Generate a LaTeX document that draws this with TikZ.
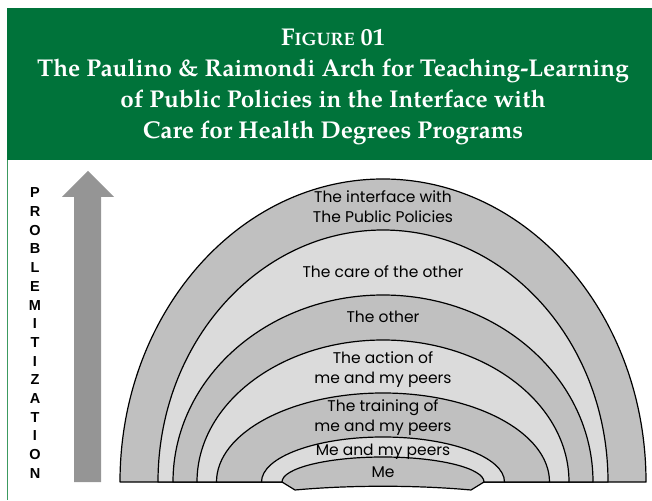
\documentclass[tikz,border=0pt]{standalone}
\usepackage{fontspec}
\setmainfont{Poppins}
\newfontfamily\headfont{texgyrepagella}[Extension=.otf,UprightFont=*-regular,BoldFont=*-bold]
\newfontfamily\letterfont{Liberation Sans Bold}
\usetikzlibrary{positioning}

\definecolor{headgreen}{HTML}{00733A}
\definecolor{framegreen}{HTML}{3C9A60}
\definecolor{bandDark}{HTML}{C0C0C0}
\definecolor{bandLight}{HTML}{DBDBDB}
\definecolor{arrowGray}{HTML}{959595}

\tikzset{
  band/.style={draw=black, line width=1.2pt, line join=round},
  darkband/.style={band, fill=bandDark},
  lightband/.style={band, fill=bandLight},
  archtext/.style={font=\fontsize{15.5}{20}\selectfont, align=center, inner sep=0pt},
  letter/.style={font=\letterfont\fontsize{14.5}{14.5}\selectfont, inner sep=0pt},
}

\begin{document}
\begin{tikzpicture}[x=1pt,y=1pt]
  \useasboundingbox (0,0) rectangle (652,500);

  % header
  \fill[headgreen] (7,340) rectangle (652,492);
  \node[text=white, align=center, font=\headfont\bfseries\fontsize{24.3}{31}\selectfont]
    (title) at (333,413)
    {F{\fontsize{18}{31}\selectfont IGURE} 01\\
     The Paulino \& Raimondi Arch for Teaching-Learning\\
     of Public Policies in the Interface with\\
     Care for Health Degrees Programs};
  \draw[framegreen, line width=1pt] (7.5,340) -- (7.5,0);

  % arrow and its word
  \fill[arrowGray] (74,18) -- (74,303) -- (62,303) -- (88,329) -- (114,303)
    -- (101,303) -- (101,18) -- cycle;
  \foreach \l [count=\i] in {P,R,O,B,L,E,M,I,T,I,Z,A,T,I,O,N}
    \node[letter] (letter\i) at (35,{307-(\i-1)*18.67}) {\l};

  % the arch, outer band first
  \foreach \a/\b/\s in {263/303/darkband, 225/252/lightband, 210/187/darkband,
                        186/142/lightband, 166.5/89/darkband, 121.5/45/lightband}
    \path[\s] ({383-\a},18) arc[start angle=180, end angle=0, x radius=\a, y radius=\b] -- cycle;
  \path[darkband] (282,18) -- (295,10) .. controls (350,15) and (416,15) .. (471,10)
    -- (484,18) arc[start angle=0, end angle=180, x radius=101, y radius=25] -- cycle;

  \node[archtext] (interface) at (383,293) {The interface with\\The Public Policies};
  \node[archtext] (care) at (383,228) {The care of the other};
  \node[archtext] (other) at (383,183) {The other};
  \node[archtext] (action) at (383,130) {The action of\\me and my peers};
  \node[archtext] (training) at (383,82) {The training of\\me and my peers};
  \node[archtext] (peers) at (383,48) {Me and my peers};
  \node[archtext] (me) at (383,28) {Me};
\end{tikzpicture}
\end{document}
